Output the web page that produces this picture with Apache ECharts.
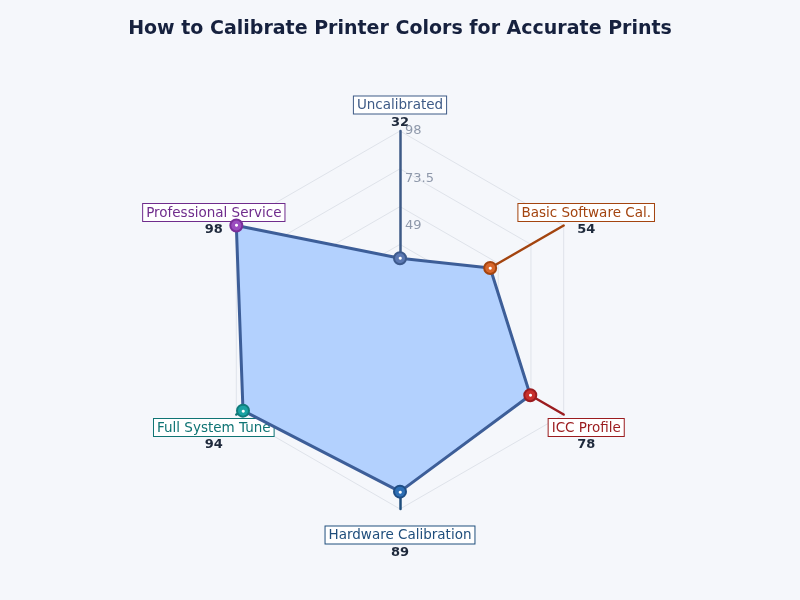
<!DOCTYPE html>
<html>
<head>
<meta charset="utf-8">
<script src="https://cdn.jsdelivr.net/npm/echarts@6/dist/echarts.min.js"></script>
<style>
html,body{margin:0;padding:0;background:#f5f7fb;}
#chart{width:800px;height:600px;}
</style>
</head>
<body>
<div id="chart"></div>
<script>
// Categories listed counter-clockwise starting from the top
const categories = ['Uncalibrated', 'Professional Service', 'Full System Tune', 'Hardware Calibration', 'ICC Profile', 'Basic Software Cal.'];
const scores = [32, 98, 94, 89, 78, 54];
const axisMax = 98;
const labelSplits = 4;
const gridSplits = 5;
const nameColors = ['#3d5a86', '#6f2c8c', '#0f7474', '#1f4e7c', '#9b1c1f', '#a3440f'];
const markerColors = ['#5b78b2', '#9b4dbf', '#1aa3a3', '#2e6fb5', '#c9302c', '#d8662b'];
const markerBorders = ['#3d5a8c', '#7a2f99', '#0f7b7b', '#1f4e85', '#9b1c1f', '#a3440f'];

const chart = echarts.init(document.getElementById('chart'), null, {renderer: 'canvas'});

const rich = {
  sp: {lineHeight: 20, fontSize: 12},
  v: {lineHeight: 20, fontSize: 13, fontWeight: 'bold', color: '#1e293b', fontFamily: 'DejaVu Sans'}
};
categories.forEach((c, i) => {
  rich['n' + i] = {
    fontSize: 13.5, lineHeight: 15, color: nameColors[i], fontFamily: 'DejaVu Sans',
    borderColor: nameColors[i], borderWidth: 1, backgroundColor: '#ffffff',
    padding: [2, 3, 1, 3]
  };
});
const markerRich = {};
categories.forEach((c, i) => {
  markerRich['m' + i] = {
    width: 10, height: 10, lineHeight: 10, align: 'center',
    backgroundColor: markerColors[i], borderColor: markerBorders[i], borderWidth: 2,
    borderRadius: 8, color: '#ffffff', fontSize: 7
  };
});

const indicators = categories.map((c, i) => ({
  name: c, max: axisMax, min: 0
}));
const labelIndicators = categories.map((c, i) => ({
  name: c, max: axisMax, min: 0,
  nameMoveOverlap: false,
  axisLine: {lineStyle: {color: nameColors[i], width: 2.5}},
  axisLabel: {show: i === 0, color: '#8e98aa', fontSize: 13, fontFamily: 'DejaVu Sans',
    margin: -5, align: 'left', formatter: v => String(v)}
}));

const center = ['50%', 320];
const radius = 189;

chart.setOption({
  backgroundColor: '#f5f7fb',
  title: {
    text: 'How to Calibrate Printer Colors for Accurate Prints',
    left: 'center', top: 15,
    textStyle: {fontFamily: 'DejaVu Sans', fontSize: 19, fontWeight: 'bold', color: '#16213e'}
  },
  radar: [
    {
      indicator: indicators, center: center, radius: radius, shape: 'polygon',
      startAngle: 90, splitNumber: gridSplits,
      axisName: {show: false},
      axisLine: {show: false},
      axisLabel: {show: false},
      splitArea: {show: false},
      splitLine: {lineStyle: {color: '#dfe3ea', width: 1}}
    },
    {
      indicator: labelIndicators, center: center, radius: radius, shape: 'polygon',
      startAngle: 90, splitNumber: labelSplits, nameGap: 26,
      splitArea: {show: false},
      splitLine: {show: false},
      axisName: {
        align: 'center', verticalAlign: 'middle',
        formatter: (name) => {
          const i = categories.indexOf(name);
          return '{sp| }\n{n' + i + '|' + name + '}\n{v|' + scores[i] + '}';
        },
        rich: rich
      }
    }
  ],
  series: [
    {
      type: 'radar',
      radarIndex: 1,
      z: 4,
      symbol: 'none',
      lineStyle: {width: 0, opacity: 0},
      areaStyle: {color: '#b3d1fe', opacity: 1},
      data: [{value: scores, name: 'Score'}]
    },
    {
      type: 'radar',
      radarIndex: 1,
      z: 5,
      symbol: 'circle',
      symbolSize: 2,
      itemStyle: {color: 'rgba(0,0,0,0)'},
      lineStyle: {color: '#3d5e98', width: 3},
      label: {
        show: true, position: 'inside',
        formatter: p => '{m' + p.dimensionIndex + '|●}',
        rich: markerRich
      },
      data: [{value: scores, name: 'Score'}]
    }
  ]
});
</script>
</body>
</html>
